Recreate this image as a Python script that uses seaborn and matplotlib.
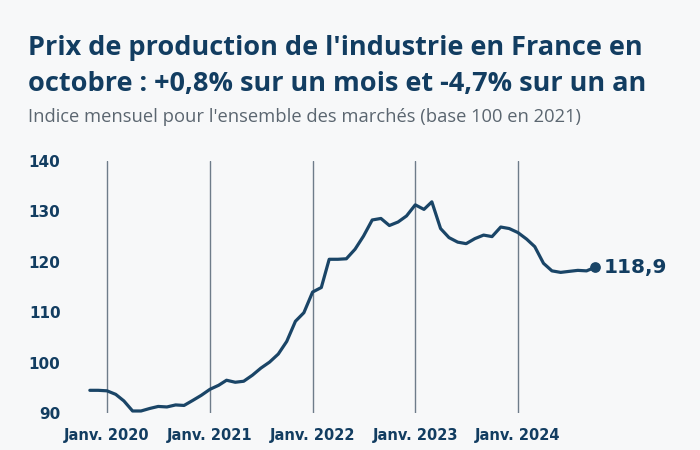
import pandas as pd
import numpy as np
import matplotlib
matplotlib.use("Agg")
import matplotlib.pyplot as plt
import seaborn as sns

# Monthly index, Nov 2019 -> Oct 2024 (base 100 in 2021)
months = pd.date_range("2019-11-01", "2024-10-01", freq="MS")
values = [
    94.5, 94.5,
    94.4, 93.7, 92.4, 90.4, 90.4, 90.9, 91.3, 91.2, 91.6, 91.5, 92.5, 93.5,
    94.7, 95.5, 96.5, 96.1, 96.3, 97.5, 98.9, 100.1, 101.7, 104.2, 108.2, 109.9,
    114.0, 114.9, 120.5, 120.5, 120.6, 122.5, 125.1, 128.3, 128.6, 127.2, 127.9, 129.1,
    131.3, 130.4, 131.9, 126.6, 124.8, 123.9, 123.6, 124.6, 125.3, 125.0, 126.9, 126.6,
    125.8, 124.5, 123.0, 119.7, 118.2, 117.9, 118.1, 118.3, 118.2, 118.9,
]
year_ticks = pd.to_datetime(["2020-01-01", "2021-01-01", "2022-01-01", "2023-01-01", "2024-01-01"])
year_labels = ["Janv. 2020", "Janv. 2021", "Janv. 2022", "Janv. 2023", "Janv. 2024"]
y_ticks = [90, 100, 110, 120, 130, 140]
last_label = "118,9"

title_lines = ["Prix de production de l'industrie en France en",
               "octobre : +0,8% sur un mois et -4,7% sur un an"]
subtitle = "Indice mensuel pour l'ensemble des marchés (base 100 en 2021)"

df = pd.DataFrame({"date": months, "indice": values})

bg = "#f7f8f9"
navy = "#123d61"
line_col = "#1a4567"
grid_col = "#6e7c8a"

sns.set_theme(style="white")
plt.rcParams["font.family"] = ["DejaVu Sans"]

fig = plt.figure(figsize=(7, 4.5), dpi=100, facecolor=bg)
ax = fig.add_axes([80 / 700, 37 / 450, 540 / 700, 252 / 450], facecolor=bg)

# vertical year lines
for d in year_ticks:
    ax.axvline(d, color=grid_col, lw=1.0, zorder=1)

sns.lineplot(data=df, x="date", y="indice", ax=ax, color=line_col, lw=2.3, zorder=3)

# last point + value label
ax.scatter(df["date"].iloc[-1], df["indice"].iloc[-1], s=45, color=line_col, zorder=4)
ax.annotate(last_label, (df["date"].iloc[-1], df["indice"].iloc[-1]),
            xytext=(6, 0), textcoords="offset points", va="center", ha="left",
            fontsize=14.5, fontweight="bold", color=navy)

ax.set_ylim(90, 140)
ax.set_xlim(pd.Timestamp("2019-09-27"), pd.Timestamp("2024-12-29"))
ax.set_yticks(y_ticks)
ax.set_xticks(year_ticks)
ax.set_xticklabels(year_labels)
ax.tick_params(axis="y", length=0, pad=14, labelsize=11, labelcolor=navy)
ax.tick_params(axis="x", length=0, pad=11, labelsize=10.5, labelcolor=navy)
for lab in ax.get_xticklabels() + ax.get_yticklabels():
    lab.set_fontweight("bold")
ax.set_xlabel("")
ax.set_ylabel("")
sns.despine(ax=ax, left=True, bottom=True)

# title (two lines) and subtitle, placed on baselines
for line, base in zip(title_lines, [55, 91.5]):
    fig.text(28 / 700, 1 - base / 450, line, ha="left", va="baseline", fontsize=19.5,
             fontweight="bold", color=navy, family=["Open Sans", "DejaVu Sans"])
fig.text(28 / 700, 1 - 121.5 / 450, subtitle, ha="left", va="baseline", fontsize=13.2,
         color="#5b6670", family=["Open Sans", "DejaVu Sans"])

fig.savefig("out.png", dpi=100, facecolor=bg)
